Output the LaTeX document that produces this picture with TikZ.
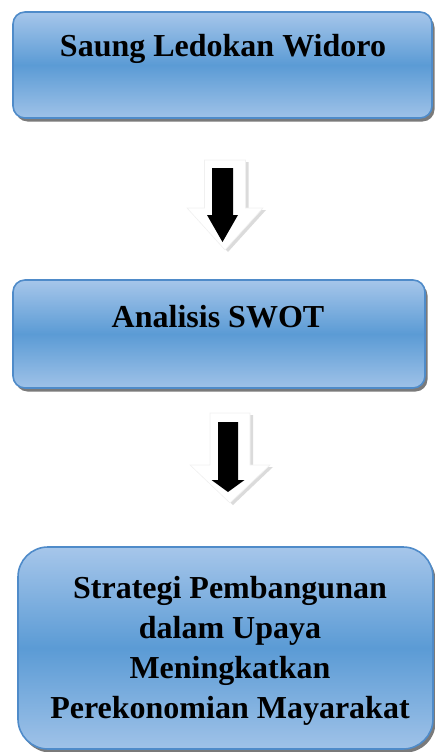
\documentclass[tikz,border=0pt]{standalone}
\usepackage{fontspec}
\setmainfont{Liberation Serif}
\usetikzlibrary{shadows}
\definecolor{boxtop}{HTML}{A6C6EA}
\definecolor{boxmid}{HTML}{5B9BD5}
\definecolor{boxbot}{HTML}{9FC2E8}
\definecolor{boxedge}{HTML}{4F8BC9}
\newcommand\darrowpath[6]{(#1-#2,#3) -- (#1+#2,#3) -- (#1+#2,#4) -- (#1+#5,#4) -- (#1,#6) -- (#1-#5,#4) -- (#1-#2,#4) -- cycle}
\tikzset{
  box/.style={rounded corners=12pt, draw=boxedge, line width=1.6pt,
    top color=boxtop, bottom color=boxbot, middle color=boxmid,
    drop shadow={shadow xshift=2.5pt, shadow yshift=-3.5pt, fill=black!65, opacity=0.8},
    inner sep=0pt},
  lbl/.style={font=\fontsize{32}{40}\selectfont\bfseries, align=center, text=black, inner sep=0pt},
  arrowglow/.style={fill=black!14},
  arrowback/.style={fill=white, draw=black!6, line width=0.6pt},
  arrowfront/.style={fill=black},
}
\begin{document}
\begin{tikzpicture}[x=1pt, y=-1pt]
  \useasboundingbox (0,0) rectangle (435,752);
  % boxes
  \node[box, minimum width=419pt, minimum height=106pt] (b1) at (222.5,65) {};
  \node[box, minimum width=412pt, minimum height=108pt] (b2) at (219,334) {};
  \node[box, rounded corners=30pt, minimum width=415pt, minimum height=202pt] (b3) at (225.5,648) {};
  % labels
  \node[lbl, anchor=base] (t1) at (223,57) {Saung Ledokan Widoro};
  \node[lbl, anchor=base] (t2) at (218,327) {Analisis SWOT};
  \node[lbl, anchor=center] (t3) at (230,651) {Strategi Pembangunan\\dalam Upaya\\Meningkatkan\\Perekonomian Mayarakat};
  % arrow 1 between b1 and b2
  \coordinate (a1) at (225,160);
  \fill[arrowglow] \darrowpath{228}{20.5}{162}{210}{38}{252};
  \draw[arrowback] \darrowpath{225}{20.5}{160}{208}{38}{250};
  \fill[arrowfront] \darrowpath{222.5}{10.5}{168}{215}{15.5}{242};
  % arrow 2 between b2 and b3
  \coordinate (a2) at (230,413);
  \fill[arrowglow] \darrowpath{233}{20}{415}{467}{40}{505};
  \draw[arrowback] \darrowpath{230}{20}{413}{465}{40}{503};
  \fill[arrowfront] \darrowpath{228}{10}{422}{480}{16.5}{492};
\end{tikzpicture}
\end{document}
